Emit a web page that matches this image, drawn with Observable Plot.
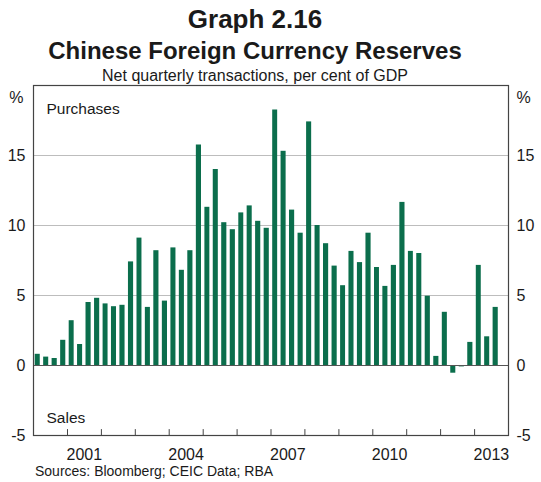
<!DOCTYPE html>
<html>
<head>
<meta charset="utf-8">
<script src="https://cdn.jsdelivr.net/npm/d3@7"></script>
<script src="https://cdn.jsdelivr.net/npm/@observablehq/plot@0.6"></script>
<style>
  html, body { margin: 0; padding: 0; background: #fff; }
  #wrap { position: relative; width: 541px; height: 482px; font-family: Arial, "Liberation Sans", sans-serif; color: #1a1a1a; }
  .t { position: absolute; left: 0; width: 510px; text-align: center; white-space: nowrap; z-index: 2; }
  #title { top: 6px; font-size: 26px; line-height: 26px; font-weight: bold; }
  #title2 { top: 39px; font-size: 24px; line-height: 24px; font-weight: bold; }
  #sub { top: 68px; font-size: 16px; line-height: 16px; }
  #chart { position: absolute; left: 0; top: 75px; z-index: 1; }
  #src { position: absolute; left: 35px; top: 464px; font-size: 14px; line-height: 14px; white-space: nowrap; z-index: 2; }
</style>
</head>
<body>
<div id="wrap">
  <div class="t" id="title">Graph 2.16</div>
  <div class="t" id="title2">Chinese Foreign Currency Reserves</div>
  <div class="t" id="sub">Net quarterly transactions, per cent of GDP</div>
  <div id="chart"></div>
  <div id="src">Sources: Bloomberg; CEIC Data; RBA</div>
</div>
<script>
// Data: net quarterly transactions, per cent of GDP, from 2000 Q1
const startYear = 2000;
const values = [
  0.8, 0.6, 0.5, 1.8,      // 2000
  3.2, 1.5, 4.5, 4.8,      // 2001
  4.4, 4.2, 4.3, 7.4,      // 2002
  9.1, 4.15, 8.2, 4.6,     // 2003
  8.4, 6.8, 8.2, 15.75,    // 2004
  11.3, 14.0, 10.2, 9.7,   // 2005
  10.9, 11.4, 10.3, 9.8,   // 2006
  18.25, 15.3, 11.1, 9.45, // 2007
  17.4, 10.0, 8.7, 7.1,    // 2008
  5.7, 8.15, 7.35, 9.45,   // 2009
  7.0, 5.65, 7.15, 11.65,  // 2010
  8.15, 8.0, 4.95, 0.65,   // 2011
  3.8, -0.55, -0.1, 1.65,  // 2012
  7.15, 2.05, 4.15         // 2013
];
const yTicks = [-5, 0, 5, 10, 15];
const gridValues = [5, 10, 15];
const tickYears = [2001, 2002, 2003, 2004, 2005, 2006, 2007, 2008, 2009, 2010, 2011, 2012, 2013];
const labelYears = [2001, 2004, 2007, 2010, 2013];
const xDomainYears = [2000, 2014];
const yDomain = [-5, 20];

const data = values.map((v, i) => ({
  start: new Date(Date.UTC(startYear + Math.floor(i / 4), (i % 4) * 3, 1)),
  end: new Date(Date.UTC(startYear + Math.floor((i + 1) / 4), ((i + 1) % 4) * 3, 1)),
  value: v
}));
const yearDate = y => new Date(Date.UTC(y, 0, 1));
const midYear = y => new Date(Date.UTC(y, 6, 1));

const ink = "#1a1a1a";
const plot = Plot.plot({
  width: 541,
  height: 390,
  marginTop: 10,
  marginBottom: 30,
  marginLeft: 33,
  marginRight: 33,
  style: { fontFamily: "Arial, 'Liberation Sans', sans-serif", fontSize: "16px", color: ink, background: "transparent" },
  x: { type: "utc", domain: xDomainYears.map(yearDate) },
  y: { domain: yDomain },
  marks: [
    Plot.ruleY(gridValues, { stroke: "#bdbdbd", strokeWidth: 1 }),
    Plot.rectY(data, { x1: "start", x2: "end", y: "value", fill: "#0b6e4c", insetLeft: 1.7, insetRight: 1.7 }),
    Plot.ruleY([0], { stroke: "#555", strokeWidth: 1.2 }),
    Plot.ruleX(tickYears.map(yearDate), { y1: yDomain[0], y2: yDomain[0] + 0.42, stroke: "#444" }),
    Plot.frame({ stroke: "#444", strokeWidth: 1.2 }),
    Plot.axisY(yTicks, { anchor: "left", tickSize: 0, tickPadding: 8, label: null, fontSize: 16, tickFormat: d => String(d) }),
    Plot.axisY(yTicks, { anchor: "right", tickSize: 0, tickPadding: 8, label: null, fontSize: 16, tickFormat: d => String(d) }),
    Plot.axisX(labelYears.map(midYear), { anchor: "bottom", tickSize: 0, tickPadding: 13, tickFormat: d => String(d.getUTCFullYear()), label: null, fontSize: 16 }),
    Plot.text(["%"], { frameAnchor: "top-left", dx: -10, dy: 6, textAnchor: "end", fontSize: 16, fill: ink }),
    Plot.text(["%"], { frameAnchor: "top-right", dx: 8, dy: 6, textAnchor: "start", fontSize: 16, fill: ink }),
    Plot.text(["Purchases"], { frameAnchor: "top-left", dx: 13, dy: 17, textAnchor: "start", fontSize: 15.5, fill: ink }),
    Plot.text(["Sales"], { frameAnchor: "bottom-left", dx: 13, dy: -13, textAnchor: "start", fontSize: 15.5, fill: ink })
  ]
});
document.getElementById("chart").appendChild(plot);
</script>
</body>
</html>
